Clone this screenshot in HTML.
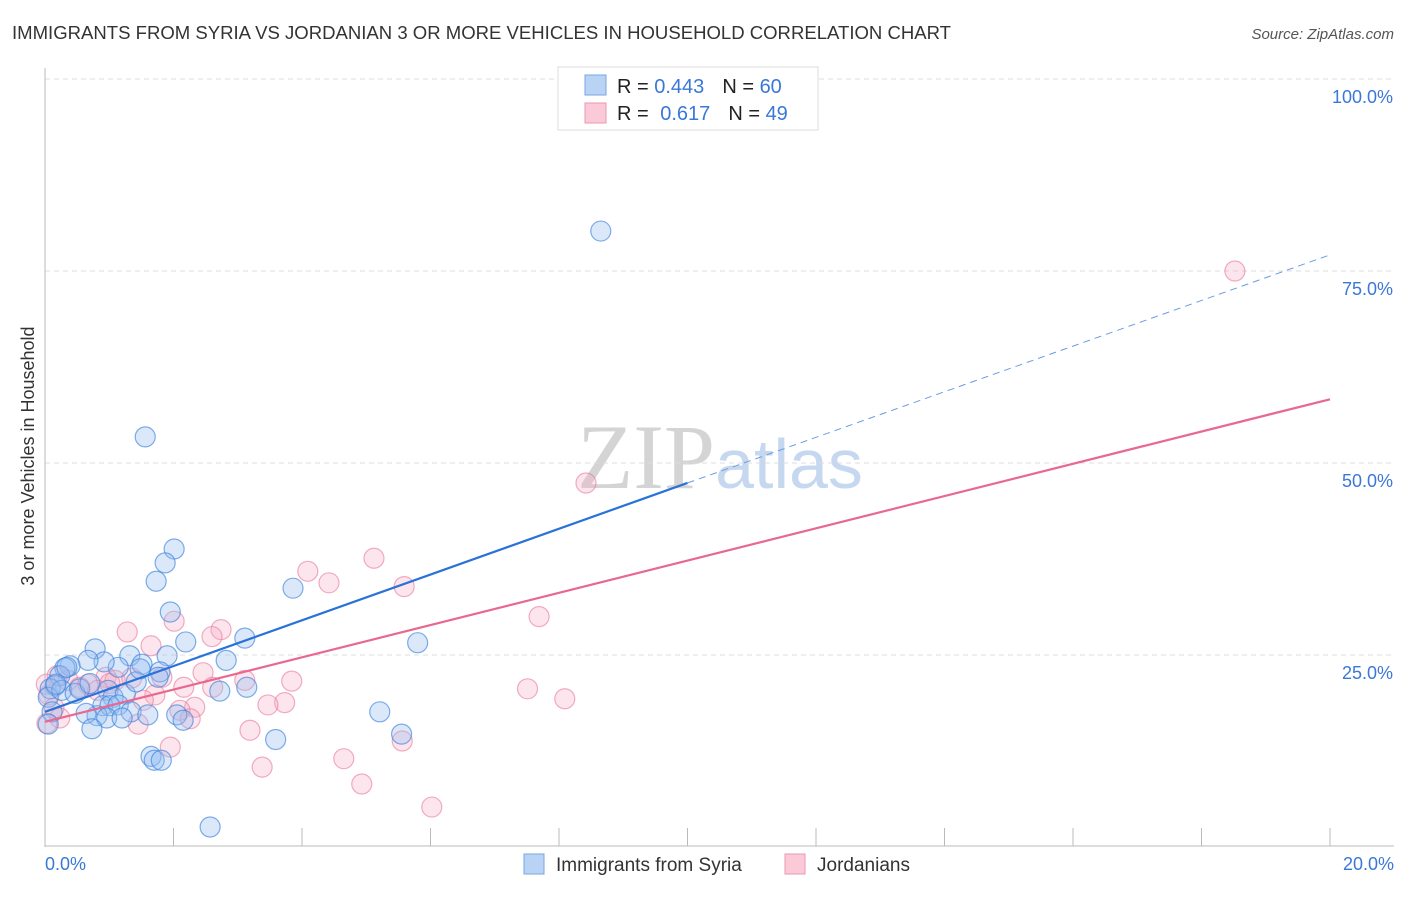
<!DOCTYPE html>
<html><head><meta charset="utf-8"><style>
body{margin:0;background:#fff;font-family:"Liberation Sans",sans-serif;}
svg text{font-family:"Liberation Sans",sans-serif;}
</style></head><body>
<svg id="chart" width="1406" height="892" xmlns="http://www.w3.org/2000/svg">
<text x="12" y="39" font-size="18" fill="#333" textLength="939" lengthAdjust="spacingAndGlyphs">IMMIGRANTS FROM SYRIA VS JORDANIAN 3 OR MORE VEHICLES IN HOUSEHOLD CORRELATION CHART</text>
<text x="1394" y="39" font-size="15" fill="#555" font-style="italic" text-anchor="end">Source: ZipAtlas.com</text>
<text x="0" y="0" font-size="18" fill="#333" transform="translate(34,456) rotate(-90)" text-anchor="middle">3 or more Vehicles in Household</text>
<text x="720" y="488" font-size="92" fill="#d8d8d8" text-anchor="middle" font-family="Liberation Serif"><tspan fill="#d4d4d4" font-family="Liberation Serif">ZIP</tspan><tspan fill="#c6d8f0" font-family="Liberation Sans" font-size="70">atlas</tspan></text>
<g id="grid"></g><g id="axes"></g><g id="marks"></g><g id="lines"></g>
<g>
<rect x="558" y="67" width="260" height="63" fill="#fff" stroke="#ddd"/>
<rect x="585" y="75" width="21" height="20" fill="#b9d3f5" stroke="#7aa6e3"/>
<rect x="585" y="103" width="21" height="20" fill="#fbcad8" stroke="#ee97b2"/>
<text x="617" y="93" font-size="20" fill="#222">R = <tspan fill="#3a78d8">0.443</tspan><tspan dx="18">N = </tspan><tspan fill="#3a78d8">60</tspan></text>
<text x="617" y="120" font-size="20" fill="#222">R = <tspan fill="#3a78d8" dx="6">0.617</tspan><tspan dx="18">N = </tspan><tspan fill="#3a78d8">49</tspan></text>
</g>
<g>
<rect x="524" y="854" width="20" height="20" fill="#b9d3f5" stroke="#7aa6e3"/>
<text x="556" y="871" font-size="19" fill="#333">Immigrants from Syria</text>
<rect x="785" y="854" width="20" height="20" fill="#fbcad8" stroke="#ee97b2"/>
<text x="817" y="871" font-size="19" fill="#333">Jordanians</text>
</g>
</svg>
<script>
const xTicks=[0,2,4,6,8,10,12,14,16,18,20];
const yTicks=[25,50,75,100];
const yTickLabels=["25.0%","50.0%","75.0%","100.0%"];
const syriaX=[8.65,1.56,2.01,1.87,1.73,1.95,3.86,2.19,3.11,5.80,1.90,2.82,1.32,0.78,1.51,1.14,0.92,0.67,0.39,0.31,0.23,0.16,0.08,0.05,0.11,0.26,0.47,0.54,0.70,0.98,1.06,1.25,1.42,1.79,1.76,1.48,3.14,2.72,0.90,1.01,1.14,1.34,0.81,0.96,1.20,1.60,2.05,2.15,0.64,0.73,5.21,5.55,3.59,1.65,1.70,1.81,2.57,0.05,0.17,0.34];
const syriaY=[80.2,53.4,38.8,37.0,34.6,30.6,33.7,26.7,27.2,26.6,24.9,24.3,24.9,25.8,23.8,23.4,24.1,24.3,23.6,23.3,22.3,21.0,20.6,19.5,17.6,20.4,20.0,20.6,21.3,20.4,19.5,19.9,21.5,22.8,22.1,23.2,20.8,20.3,18.4,18.4,18.5,17.6,17.1,16.8,16.8,17.2,17.2,16.5,17.4,15.4,17.6,14.7,14.0,11.8,11.3,11.3,2.6,16.0,21.2,23.4];
const jorX=[18.52,8.42,5.12,4.09,4.42,5.59,7.69,2.01,1.28,1.65,2.74,2.60,7.51,8.09,3.84,3.11,2.46,1.82,2.16,2.61,3.73,3.47,2.33,2.10,2.26,1.71,1.53,1.45,1.95,3.19,3.38,4.65,4.93,6.02,5.56,0.19,0.36,0.54,0.67,0.95,1.09,1.35,0.06,0.14,0.23,0.03,0.82,1.01,0.02];
const jorY=[75.0,47.4,37.6,35.9,34.4,33.9,30.0,29.4,28.0,26.2,28.3,27.4,20.6,19.3,21.6,21.7,22.7,22.1,20.8,20.8,18.8,18.5,18.2,17.8,16.7,19.8,19.1,16.0,13.0,15.2,10.4,11.5,8.2,5.2,13.8,22.3,21.7,20.8,21.2,22.1,21.7,22.0,19.8,18.1,16.8,16.1,20.4,21.3,21.2];
const syriaLine=[[0,17.6],[10,47.4],[20,77.1]];
const jorLine=[[0,16.3],[20,58.3]];
const X0=45,X1=1330,Y0=847,YH=79;
const sx=v=>X0+(X1-X0)*v/20, sy=v=>Y0-(Y0-YH)*v/100;
const NS="http://www.w3.org/2000/svg";
function mk(t,a,p){const e=document.createElementNS(NS,t);for(const k in a)e.setAttribute(k,a[k]);p.appendChild(e);return e;}
const grid=document.getElementById('grid'),axes=document.getElementById('axes'),marks=document.getElementById('marks'),lines=document.getElementById('lines');
yTicks.forEach((v,i)=>{
 const g=mk('line',{x1:X0,x2:1394,y1:sy(v),y2:sy(v),stroke:'#ddd','stroke-dasharray':'5,4'},grid);
 
 
 const t=mk('text',{x:1393,y:sy(v)+24,'font-size':18,fill:'#3a78d8','text-anchor':'end'},axes);t.textContent=yTickLabels[i];
 
 
});
mk('line',{x1:X0,x2:X0,y1:68,y2:847,stroke:'#bbb'},axes);
mk('line',{x1:X0,x2:1394,y1:846,y2:846,stroke:'#bbb'},axes);
xTicks.forEach(v=>{const l=mk('line',{x1:sx(v),x2:sx(v),y1:828,y2:846,stroke:'#bbb'},axes);
 
 });
[[0,"0.0%",'start',45],[20,"20.0%",'end',1394]].forEach(a=>{const t=mk('text',{x:a[3],y:870,'font-size':18,fill:'#3a78d8','text-anchor':a[2]},axes);t.textContent=a[1];
 
 });
jorX.forEach((x,i)=>{const c=mk('circle',{cx:sx(x),cy:sy(jorY[i]),r:10,fill:'rgba(248,170,195,0.3)',stroke:'rgba(232,120,155,0.6)','stroke-width':1.2},marks);
 
 });
syriaX.forEach((x,i)=>{const c=mk('circle',{cx:sx(x),cy:sy(syriaY[i]),r:10,fill:'rgba(150,190,240,0.35)',stroke:'rgba(60,130,220,0.65)','stroke-width':1.2},marks);
 
 });
let l1=mk('line',{x1:sx(syriaLine[0][0]),y1:sy(syriaLine[0][1]),x2:sx(syriaLine[1][0]),y2:sy(syriaLine[1][1]),stroke:'#2a72d8','stroke-width':2.2},lines);


let l2=mk('line',{x1:sx(syriaLine[1][0]),y1:sy(syriaLine[1][1]),x2:sx(syriaLine[2][0]),y2:sy(syriaLine[2][1]),stroke:'#6a9de0','stroke-width':1,'stroke-dasharray':'7,5'},lines);


let l3=mk('line',{x1:sx(jorLine[0][0]),y1:sy(jorLine[0][1]),x2:sx(jorLine[1][0]),y2:sy(jorLine[1][1]),stroke:'#e8688f','stroke-width':2.2},lines);


</script>
</body></html>
